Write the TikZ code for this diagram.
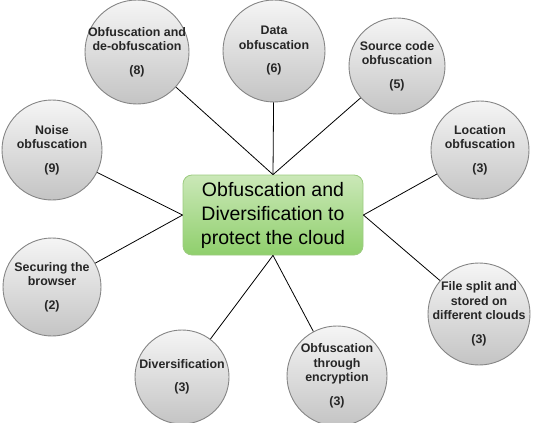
\documentclass[tikz,border=0pt]{standalone}
\usepackage{fontspec}
\setmainfont{Liberation Sans}
\usetikzlibrary{positioning,shapes}

\definecolor{topicline}{HTML}{858585}
\definecolor{topictop}{HTML}{F5F5F5}
\definecolor{topicbottom}{HTML}{C4C4C4}
\definecolor{hubtop}{HTML}{CBE8B8}
\definecolor{hubbottom}{HTML}{8FCF6C}
\definecolor{hubline}{HTML}{9CCB80}

\tikzset{
	topic/.style={circle, draw=topicline, line width=0.9pt, top color=topictop, bottom color=topicbottom,
		inner sep=-22pt, align=center, text=black!85, font=\bfseries\fontsize{12.4}{14.5}\selectfont},
	hub/.style={rectangle, rounded corners=9pt, draw=hubline, line width=0.8pt, top color=hubtop, bottom color=hubbottom,
		minimum width=180pt, minimum height=80pt, align=center, font=\fontsize{19.5}{24}\selectfont},
	link/.style={draw=black, line width=0.8pt}
}

\begin{document}
\begin{tikzpicture}[x=1pt,y=-1pt]
		\useasboundingbox (0,0) rectangle (533,423);
		\node[hub] (hub) at (273,215) {Obfuscation and\\Diversification to\\protect the cloud};

		\node[topic, minimum size=104pt] (deobf) at (137,52) {Obfuscation and\\de-obfuscation\\[9pt](8)};
		\node[topic, minimum size=102pt] (data) at (274,51) {Data\\obfuscation\\[9pt](6)};
		\node[topic, minimum size=96pt] (source) at (397,66) {Source code\\obfuscation\\[9pt](5)};
		\node[topic, minimum size=100pt] (noise) at (52,150) {Noise\\obfuscation\\[9pt](9)};
		\node[topic, minimum size=98pt] (location) at (480,150) {Location\\obfuscation\\[9pt](3)};
		\node[topic, minimum size=98pt] (browser) at (52,287) {Securing the\\browser\\[9pt](2)};
		\node[topic, minimum size=102pt] (filesplit) at (479,314) {File split and\\stored on\\different clouds\\[9pt](3)};
		\node[topic, minimum size=94pt] (divers) at (182,377) {Diversification\\[9pt](3)};
		\node[topic, minimum size=100pt] (encrypt) at (337,376) {Obfuscation\\through\\encryption\\[9pt](3)};

		\draw[link] (deobf) -- (hub.north);
		\draw[link] (data) -- (hub.north);
		\draw[link] (source) -- (hub.north);
		\draw[link] (noise) -- (hub.west);
		\draw[link] (browser) -- (hub.west);
		\draw[link] (location) -- (hub.east);
		\draw[link] (filesplit) -- (hub.east);
		\draw[link] (divers) -- (hub.south);
		\draw[link] (encrypt) -- (hub.south);
	\end{tikzpicture}
\end{document}
